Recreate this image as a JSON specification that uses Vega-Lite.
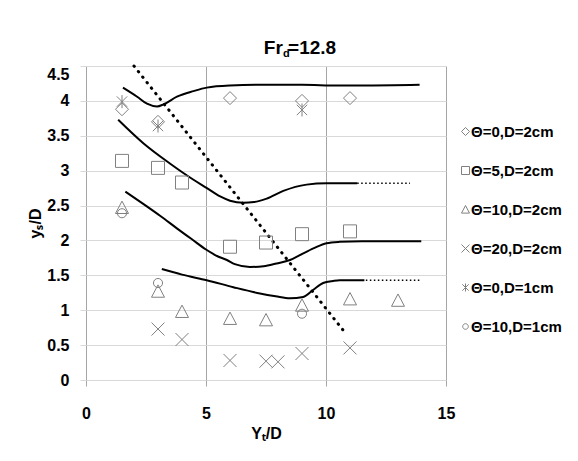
{
  "$schema": "https://vega.github.io/schema/vega-lite/v6.json",
  "width": 360,
  "height": 314,
  "autosize": {"type": "none"},
  "padding": {"left": 86, "top": 66, "right": 132, "bottom": 81},
  "background": "white",
  "config": {"view": {"stroke": null}, "font": "Liberation Sans"},
  "title": {
    "text": "Fr\u00a0=12.8",
    "subtitle": "d\u00a0\u00a0\u00a0\u00a0\u00a0\u00a0\u00a0\u00a0\u00a0\u200b",
    "anchor": "middle",
    "frame": "group",
    "dx": 34,
    "fontSize": 19,
    "fontWeight": "bold",
    "font": "Liberation Sans",
    "color": "black",
    "subtitleFont": "Liberation Sans",
    "subtitleFontSize": 11,
    "subtitleFontWeight": "bold",
    "subtitleColor": "black",
    "subtitlePadding": -10,
    "offset": 1
  },
  "datasets": {
    "points": [
      {"series": "Θ=0,D=2cm", "x": 1.5, "y": 3.88},
      {"series": "Θ=0,D=2cm", "x": 3, "y": 3.70},
      {"series": "Θ=0,D=2cm", "x": 6, "y": 4.04},
      {"series": "Θ=0,D=2cm", "x": 9, "y": 4.0},
      {"series": "Θ=0,D=2cm", "x": 11, "y": 4.04},
      {"series": "Θ=5,D=2cm", "x": 1.5, "y": 3.14},
      {"series": "Θ=5,D=2cm", "x": 3, "y": 3.04},
      {"series": "Θ=5,D=2cm", "x": 4, "y": 2.83},
      {"series": "Θ=5,D=2cm", "x": 6, "y": 1.91},
      {"series": "Θ=5,D=2cm", "x": 7.5, "y": 1.97},
      {"series": "Θ=5,D=2cm", "x": 9, "y": 2.09},
      {"series": "Θ=5,D=2cm", "x": 11, "y": 2.13},
      {"series": "Θ=10,D=2cm", "x": 1.5, "y": 2.47},
      {"series": "Θ=10,D=2cm", "x": 3, "y": 1.27},
      {"series": "Θ=10,D=2cm", "x": 4, "y": 0.98},
      {"series": "Θ=10,D=2cm", "x": 6, "y": 0.88},
      {"series": "Θ=10,D=2cm", "x": 7.5, "y": 0.86},
      {"series": "Θ=10,D=2cm", "x": 9, "y": 1.07},
      {"series": "Θ=10,D=2cm", "x": 11, "y": 1.16},
      {"series": "Θ=10,D=2cm", "x": 13, "y": 1.14},
      {"series": "Θ=20,D=2cm", "x": 3, "y": 0.73},
      {"series": "Θ=20,D=2cm", "x": 4, "y": 0.58},
      {"series": "Θ=20,D=2cm", "x": 6, "y": 0.28},
      {"series": "Θ=20,D=2cm", "x": 7.5, "y": 0.27},
      {"series": "Θ=20,D=2cm", "x": 8, "y": 0.26},
      {"series": "Θ=20,D=2cm", "x": 9, "y": 0.38},
      {"series": "Θ=20,D=2cm", "x": 11, "y": 0.46},
      {"series": "Θ=0,D=1cm", "x": 1.5, "y": 3.99},
      {"series": "Θ=0,D=1cm", "x": 3, "y": 3.64},
      {"series": "Θ=0,D=1cm", "x": 9, "y": 3.87},
      {"series": "Θ=10,D=1cm", "x": 1.5, "y": 2.39},
      {"series": "Θ=10,D=1cm", "x": 3, "y": 1.39},
      {"series": "Θ=10,D=1cm", "x": 9, "y": 0.95}
    ],
    "curves": [
      {"curve": "a", "x": 1.54, "y": 4.19},
      {"curve": "a", "x": 2.13, "y": 4.06},
      {"curve": "a", "x": 2.54, "y": 3.96},
      {"curve": "a", "x": 2.96, "y": 3.92},
      {"curve": "a", "x": 3.23, "y": 3.95},
      {"curve": "a", "x": 3.79, "y": 4.06},
      {"curve": "a", "x": 4.48, "y": 4.14},
      {"curve": "a", "x": 5.03, "y": 4.19},
      {"curve": "a", "x": 6.0, "y": 4.22},
      {"curve": "a", "x": 7.25, "y": 4.23},
      {"curve": "a", "x": 9.0, "y": 4.23},
      {"curve": "a", "x": 10.5, "y": 4.22},
      {"curve": "a", "x": 11.5, "y": 4.22},
      {"curve": "a", "x": 13.9, "y": 4.23},
      {"curve": "b", "x": 1.34, "y": 3.73},
      {"curve": "b", "x": 2.40, "y": 3.39},
      {"curve": "b", "x": 3.51, "y": 3.10},
      {"curve": "b", "x": 4.48, "y": 2.87},
      {"curve": "b", "x": 5.04, "y": 2.75},
      {"curve": "b", "x": 5.59, "y": 2.63},
      {"curve": "b", "x": 6.0, "y": 2.57},
      {"curve": "b", "x": 6.56, "y": 2.54},
      {"curve": "b", "x": 7.0, "y": 2.55},
      {"curve": "b", "x": 7.53, "y": 2.60},
      {"curve": "b", "x": 8.22, "y": 2.71},
      {"curve": "b", "x": 9.19, "y": 2.80},
      {"curve": "b", "x": 10.02, "y": 2.82},
      {"curve": "b", "x": 11.3, "y": 2.82},
      {"curve": "c", "x": 1.64, "y": 2.70},
      {"curve": "c", "x": 2.4, "y": 2.52},
      {"curve": "c", "x": 3.1, "y": 2.35},
      {"curve": "c", "x": 3.8, "y": 2.17},
      {"curve": "c", "x": 4.4, "y": 2.02},
      {"curve": "c", "x": 5.0, "y": 1.87},
      {"curve": "c", "x": 5.5, "y": 1.77},
      {"curve": "c", "x": 5.87, "y": 1.72},
      {"curve": "c", "x": 6.2, "y": 1.66},
      {"curve": "c", "x": 6.83, "y": 1.62},
      {"curve": "c", "x": 7.4, "y": 1.63},
      {"curve": "c", "x": 7.94, "y": 1.67},
      {"curve": "c", "x": 8.5, "y": 1.72},
      {"curve": "c", "x": 8.91, "y": 1.79},
      {"curve": "c", "x": 9.5, "y": 1.89},
      {"curve": "c", "x": 10.02, "y": 1.96},
      {"curve": "c", "x": 10.57, "y": 1.98},
      {"curve": "c", "x": 11.5, "y": 1.99},
      {"curve": "c", "x": 13.97, "y": 1.99},
      {"curve": "d", "x": 3.16, "y": 1.59},
      {"curve": "d", "x": 4.0, "y": 1.51},
      {"curve": "d", "x": 5.03, "y": 1.43},
      {"curve": "d", "x": 6.14, "y": 1.33},
      {"curve": "d", "x": 7.25, "y": 1.24},
      {"curve": "d", "x": 7.9, "y": 1.20},
      {"curve": "d", "x": 8.5, "y": 1.17},
      {"curve": "d", "x": 9.05, "y": 1.19},
      {"curve": "d", "x": 9.46, "y": 1.29},
      {"curve": "d", "x": 9.88, "y": 1.39},
      {"curve": "d", "x": 10.3, "y": 1.42},
      {"curve": "d", "x": 10.57, "y": 1.43},
      {"curve": "d", "x": 11.6, "y": 1.43}
    ],
    "extensions": [
      {"curve": "b", "x": 11.3, "y": 2.82},
      {"curve": "b", "x": 13.5, "y": 2.82},
      {"curve": "d", "x": 11.66, "y": 1.43},
      {"curve": "d", "x": 13.97, "y": 1.43}
    ],
    "diagonal": [
      {"x": 2.0, "y": 4.5},
      {"x": 10.7, "y": 0.72}
    ]
  },
  "encoding": {
    "x": {
      "field": "x",
      "type": "quantitative",
      "scale": {"domain": [0, 15], "nice": false, "zero": false},
      "axis": {
        "values": [0, 5, 10, 15],
        "title": "Yₜ/D",
        "grid": true,
        "gridColor": "#a6a6a6",
        "gridWidth": 1,
        "domain": false,
        "ticks": true,
        "tickColor": "#a6a6a6",
        "tickSize": 6,
        "labelFont": "Liberation Sans",
        "labelFontSize": 16,
        "labelFontWeight": "bold",
        "labelColor": "black",
        "labelPadding": 19,
        "labelFlush": false,
        "labelOverlap": false,
        "titleFont": "Liberation Sans",
        "titleFontSize": 16,
        "titleFontWeight": "bold",
        "titleColor": "black",
        "titlePadding": 4
      }
    },
    "y": {
      "field": "y",
      "type": "quantitative",
      "scale": {"domain": [0, 4.5], "nice": false, "zero": false},
      "axis": {
        "values": [0, 0.5, 1, 1.5, 2, 2.5, 3, 3.5, 4, 4.5],
        "format": "~g",
        "title": "yₛ/D",
        "grid": true,
        "gridColor": "#d9d9d9",
        "gridWidth": 1,
        "domain": false,
        "ticks": true,
        "tickColor": "#d9d9d9",
        "tickSize": 6,
        "labelFont": "Liberation Sans",
        "labelFontSize": 16,
        "labelFontWeight": "bold",
        "labelColor": "black",
        "labelPadding": 11,
        "labelFlush": false,
        "labelOverlap": false,
        "labelBaseline": {"condition": {"test": "datum.value == 4.5", "value": "top"}, "value": "middle"},
        "titleFont": "Liberation Sans",
        "titleFontSize": 16,
        "titleFontWeight": "bold",
        "titleColor": "black",
        "titlePadding": 3
      }
    }
  },
  "layer": [
    {
      "data": {"name": "curves"},
      "mark": {"type": "line", "color": "black", "strokeWidth": 2, "interpolate": "monotone"},
      "encoding": {"detail": {"field": "curve", "type": "nominal"}}
    },
    {
      "data": {"name": "extensions"},
      "mark": {"type": "line", "color": "black", "strokeWidth": 1.5, "strokeDash": [1.5, 2.5]},
      "encoding": {"detail": {"field": "curve", "type": "nominal"}}
    },
    {
      "data": {"name": "diagonal"},
      "mark": {"type": "line", "color": "black", "strokeWidth": 3, "strokeDash": [0.5, 6.5], "strokeCap": "round"},
      "encoding": {}
    },
    {
      "data": {"name": "points"},
      "mark": {"type": "point", "filled": false, "color": "#808080", "strokeWidth": 1, "size": 169, "opacity": 1},
      "encoding": {
        "shape": {
          "field": "series",
          "type": "nominal",
          "scale": {
            "domain": ["Θ=0,D=2cm", "Θ=5,D=2cm", "Θ=10,D=2cm", "Θ=20,D=2cm", "Θ=0,D=1cm", "Θ=10,D=1cm"],
            "range": [
              "M-1,0L0,-1L1,0L0,1Z",
              "M-1,-1L1,-1L1,1L-1,1Z",
              "M0,-1L1,0.9L-1,0.9Z",
              "M-1,-1L1,1M-1,1L1,-1",
              "M-0.8,-0.8L0.8,0.8M-0.8,0.8L0.8,-0.8M0,-1L0,1",
              "M0.7,0A0.7,0.7,0,1,1,-0.7,0A0.7,0.7,0,1,1,0.7,0Z"
            ]
          },
          "legend": {
            "title": null,
            "orient": "none",
            "legendX": 372,
            "legendY": 58,
            "padding": 0,
            "labelFont": "Liberation Sans",
            "labelFontSize": 15,
            "labelFontWeight": "bold",
            "labelColor": "black",
            "labelOffset": -2,
            "symbolSize": 64,
            "symbolStrokeColor": "#808080",
            "symbolStrokeWidth": 1,
            "rowPadding": 23
          }
        }
      }
    }
  ]
}
